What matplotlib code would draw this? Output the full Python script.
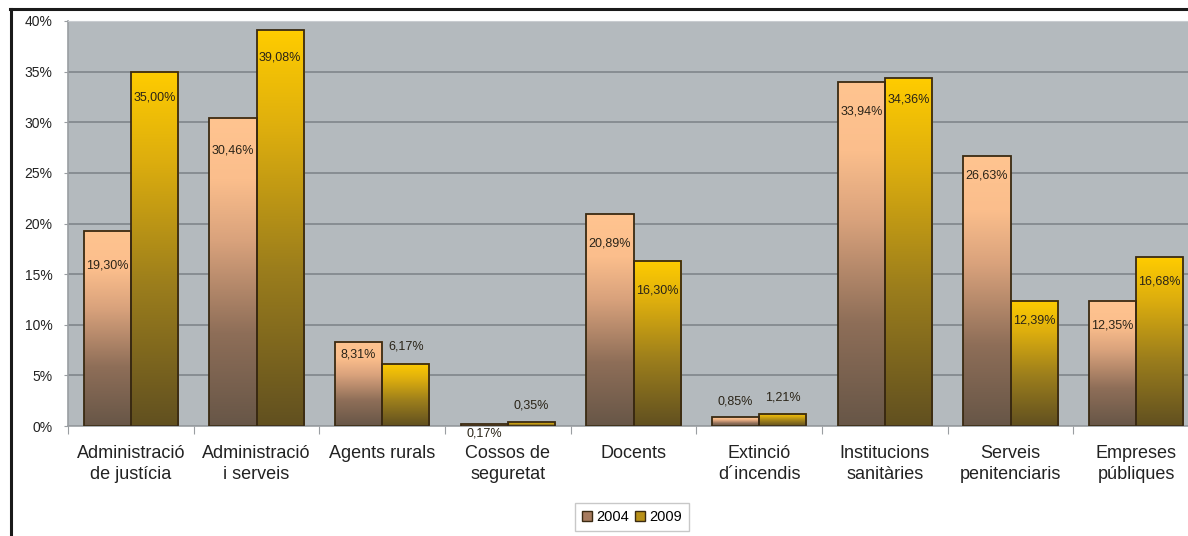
import numpy as np
import matplotlib
matplotlib.use("Agg")
import matplotlib.pyplot as plt
from matplotlib.colors import LinearSegmentedColormap
from matplotlib.patches import Patch
from matplotlib.lines import Line2D

plt.rcParams['font.family'] = ['Liberation Sans', 'DejaVu Sans']

categories = ["Administració\nde justícia", "Administració\ni serveis", "Agents rurals",
              "Cossos de\nseguretat", "Docents", "Extinció\nd\u00b4incendis",
              "Institucions\nsanitàries", "Serveis\npenitenciaris", "Empreses\npúbliques"]
years = ["2004", "2009"]
v2004 = [19.30, 30.46, 8.31, 0.17, 20.89, 0.85, 33.94, 26.63, 12.35]
v2009 = [35.00, 39.08, 6.17, 0.35, 16.30, 1.21, 34.36, 12.39, 16.68]

# label offsets in pixels from the bar top (placement only, negative = down)
off2004 = [-35, -33, -13, -9, -29, 16, -29, -19, -25]
off2009 = [-26, -27, 17, 17, -30, 16, -21, -20, -24]

W, H = 1188, 536
fig = plt.figure(figsize=(W / 100, H / 100), dpi=100)
fig.patch.set_facecolor("white")
ax = fig.add_axes([68 / W, 1 - 426 / H, (1199 - 68) / W, (426 - 21) / H])
ax.set_facecolor("#B4BABE")

cm04 = LinearSegmentedColormap.from_list(
    "c04", [(0, "#675647"), (0.3, "#8E6E58"), (0.6, "#D9A27C"), (0.8, "#FBBE8C"), (1, "#FFC490")])
cm09 = LinearSegmentedColormap.from_list(
    "c09", [(0, "#615020"), (0.4, "#9C7E1C"), (0.75, "#DDAE0E"), (1, "#FFCC00")])
grad = np.linspace(0, 1, 256).reshape(-1, 1)

bw = 0.375
x = np.arange(len(categories))
for vals, cm, shift, offs in [(v2004, cm04, -bw / 2, off2004), (v2009, cm09, bw / 2, off2009)]:
    for xi, v, o in zip(x, vals, offs):
        x0 = xi + shift - bw / 2
        ax.imshow(grad, extent=[x0, x0 + bw, 0, v], origin="lower", aspect="auto",
                  cmap=cm, zorder=2, interpolation="bilinear")
        ax.annotate(f"{v:.2f}%".replace(".", ","), (xi + shift, v), xytext=(0, o),
                    textcoords="offset pixels", ha="center", va="center",
                    fontsize=9, color="#2a2418", zorder=4)
    ax.bar(x + shift, vals, bw, fill=False, edgecolor="#3A2A12", linewidth=1.3, zorder=3)

ax.set_xlim(-0.5, len(categories) - 0.5)
ax.set_ylim(0, 40)
ax.set_yticks(np.arange(0, 41, 5))
ax.set_yticklabels([f"{t}%" for t in range(0, 41, 5)], fontsize=10, color="#222222")
ax.yaxis.grid(True, color="#80868B", linewidth=1.2, zorder=1)
ax.set_axisbelow(True)
ax.tick_params(axis="y", length=3, color="#9A9EA2", pad=8)

ax.set_xticks(np.arange(len(categories) + 1) - 0.5, minor=False)
ax.set_xticklabels([])
ax.set_xticks(x, minor=True)
ax.set_xticklabels(categories, minor=True, fontsize=13, color="#222222", linespacing=1.3)
ax.tick_params(axis="x", which="minor", length=0, pad=14)
ax.tick_params(axis="x", which="major", length=6, color="#9A9EA2")

for s in ["left", "bottom"]:
    ax.spines[s].set_color("#9A9EA2")
    ax.spines[s].set_linewidth(1.2)
ax.spines["top"].set_color("#C8CCD0")
ax.spines["right"].set_visible(False)

handles = [Patch(facecolor="#A77B5E", edgecolor="#3A2A12", label=years[0]),
           Patch(facecolor="#B89018", edgecolor="#3A2A12", label=years[1])]
fig.legend(handles=handles, loc="center", bbox_to_anchor=(632 / W, 1 - 517 / H), ncol=2,
           fontsize=10.5, frameon=True, fancybox=False, edgecolor="#BBBBBB",
           handlelength=0.7, handleheight=0.7, handletextpad=0.3, columnspacing=0.4,
           borderpad=0.45)

fig.add_artist(Line2D([10.5 / W, 10.5 / W], [0, 1 - 9 / H], color="#1a1a1a", linewidth=2.2,
                      transform=fig.transFigure))
fig.add_artist(Line2D([10 / W, 1], [1 - 9 / H, 1 - 9 / H], color="#1a1a1a", linewidth=2.2,
                      transform=fig.transFigure))

fig.savefig("out.png", dpi=100)
